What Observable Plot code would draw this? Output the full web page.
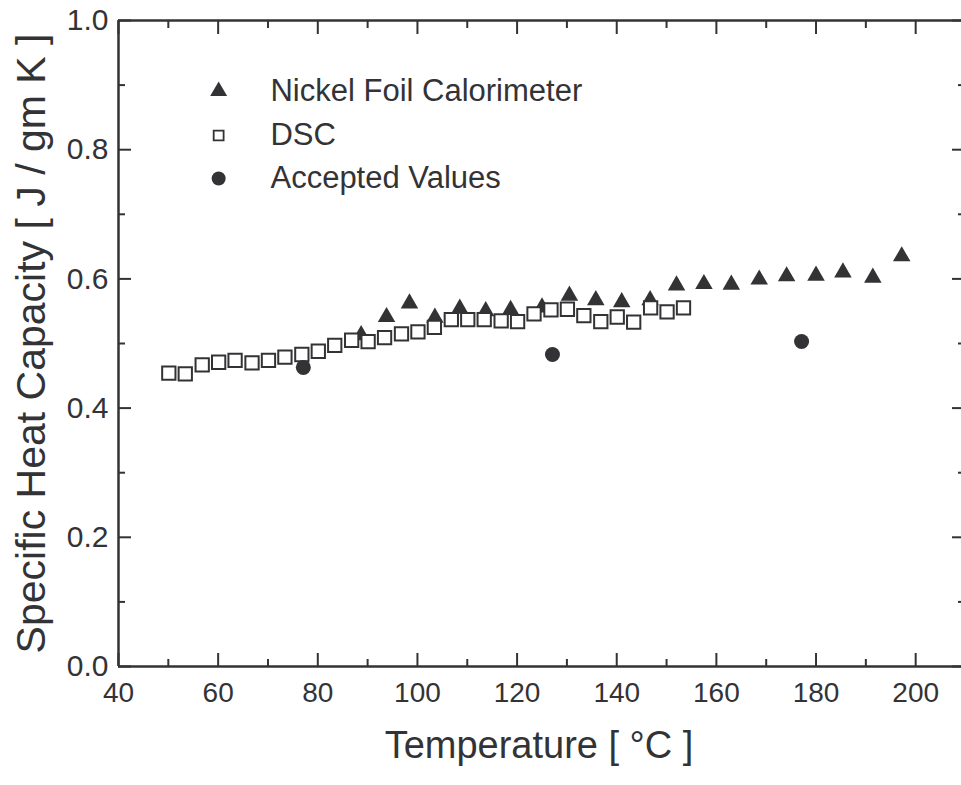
<!DOCTYPE html>
<html>
<head>
<meta charset="utf-8">
<script src="https://cdn.jsdelivr.net/npm/d3@7"></script>
<script src="https://cdn.jsdelivr.net/npm/@observablehq/plot@0.6"></script>
<style>
  html, body { margin: 0; padding: 0; background: #fff; overflow: hidden; scrollbar-width: none; }
  ::-webkit-scrollbar { display: none; width: 0; height: 0; }
  #chart { width: 961px; height: 785px; overflow: hidden; }
  #chart svg { max-width: none !important; display: block; }
</style>
</head>
<body>
<div id="chart"></div>
<script>
// Nickel foil calorimeter (triangles)
const nickelT = [88.7, 93.8, 98.4, 103.5, 108.5, 113.7, 118.7, 125.0, 130.5, 135.8, 141.0, 146.7, 152.0, 157.5, 163.0, 168.6, 174.1, 180.0, 185.4, 191.4, 197.2];
const nickelCp = [0.513, 0.541, 0.562, 0.540, 0.554, 0.550, 0.552, 0.556, 0.574, 0.567, 0.564, 0.567, 0.590, 0.592, 0.591, 0.599, 0.604, 0.605, 0.610, 0.602, 0.635];

// DSC (open squares)
const dscT = [50.1, 53.4, 56.8, 60.1, 63.4, 66.8, 70.1, 73.4, 76.8, 80.1, 83.4, 86.8, 90.1, 93.4, 96.8, 100.1, 103.4, 106.8, 110.1, 113.4, 116.8, 120.1, 123.4, 126.8, 130.1, 133.4, 136.8, 140.1, 143.4, 146.8, 150.1, 153.4];
const dscCp = [0.454, 0.453, 0.467, 0.471, 0.474, 0.470, 0.474, 0.479, 0.483, 0.488, 0.497, 0.505, 0.503, 0.509, 0.515, 0.518, 0.525, 0.537, 0.537, 0.537, 0.535, 0.534, 0.546, 0.552, 0.553, 0.543, 0.534, 0.541, 0.533, 0.555, 0.549, 0.555];

// Accepted values (filled circles)
const acceptedT = [77.1, 127.1, 177.1];
const acceptedCp = [0.463, 0.483, 0.503];

// Axis ticks
const xMajor = [40, 60, 80, 100, 120, 140, 160, 180, 200];
const xMinor = [50, 70, 90, 110, 130, 150, 170, 190];
const yMajor = [0, 0.2, 0.4, 0.6, 0.8, 1.0];
const yMinor = [0.1, 0.3, 0.5, 0.7, 0.9];

// Legend
const legendLabels = ["Nickel Foil Calorimeter", "DSC", "Accepted Values"];

const nickel = nickelT.map((t, i) => ({t, cp: nickelCp[i]}));
const dsc = dscT.map((t, i) => ({t, cp: dscCp[i]}));
const accepted = acceptedT.map((t, i) => ({t, cp: acceptedCp[i]}));

const ink = "#333336";
const fmt = d3.format(".1f");

const legendX = 60.1, legendTextX = 70.5;
const legendYs = [0.8906, 0.822, 0.7554];
const legend = legendLabels.map((label, i) => ({label, y: legendYs[i]}));

const tickOpts = {tickFormat: () => "", label: null, stroke: ink, strokeWidth: 2};
const xMax = 210, pxPerUnit = (965 - 118) / (210 - 40);

const chart = Plot.plot({
  width: 961,
  height: 785,
  marginLeft: 118,
  marginRight: 0,
  marginTop: 20,
  marginBottom: 119,
  style: {fontFamily: "'Liberation Sans', Arial, sans-serif", fontSize: "28px", color: ink, background: "#fff", maxWidth: "none"},
  x: {domain: [40, xMax], range: [118, 965], axis: null},
  y: {domain: [0, 1], axis: null},
  marks: [
    // tick labels
    Plot.axisX({ticks: xMajor, tickSize: 0, tickPadding: 16, tickFormat: d => d, label: null, fill: ink, fontSize: 28}),
    Plot.axisY({ticks: yMajor, tickSize: 0, tickPadding: 10, tickFormat: fmt, label: null, fill: ink, fontSize: 30}),
    // inward ticks
    Plot.axisX({anchor: "bottom", ticks: xMajor, tickSize: -13, ...tickOpts}),
    Plot.axisX({anchor: "bottom", ticks: xMinor, tickSize: -7, ...tickOpts}),
    Plot.axisX({anchor: "top", ticks: xMajor, tickSize: -13, ...tickOpts}),
    Plot.axisX({anchor: "top", ticks: xMinor, tickSize: -7, ...tickOpts}),
    Plot.axisY({anchor: "left", ticks: yMajor, tickSize: -13, ...tickOpts}),
    Plot.axisY({anchor: "left", ticks: yMinor, tickSize: -7, ...tickOpts}),
    // right-side ticks (the right frame edge itself lies just beyond the picture)
    Plot.ruleY(yMajor, {x1: xMax - 13 / pxPerUnit, x2: xMax, stroke: ink, strokeWidth: 2}),
    Plot.ruleY(yMinor, {x1: xMax - 7 / pxPerUnit, x2: xMax, stroke: ink, strokeWidth: 2}),
    // frame
    Plot.ruleY([0, 1], {stroke: ink, strokeWidth: 2.5}),
    Plot.ruleX([40], {stroke: ink, strokeWidth: 2.5}),
    // axis titles
    Plot.text(["Temperature [ °C ]"], {frameAnchor: "bottom", dx: -1, dy: 91, fontSize: 38, fill: ink}),
    Plot.text(["Specific Heat Capacity [ J / gm K ]"], {frameAnchor: "left", textAnchor: "middle", dx: -87, rotate: -90, fontSize: 41, fill: ink}),
    // data
    Plot.dot(nickel, {x: "t", y: "cp", symbol: "triangle", r: 6.5, fill: ink, stroke: "none"}),
    Plot.dot(dsc, {x: "t", y: "cp", symbol: "square", r: 7.5, fill: "white", stroke: ink, strokeWidth: 2}),
    Plot.dot(accepted, {x: "t", y: "cp", symbol: "circle", r: 7.5, fill: ink, stroke: "none"}),
    // legend
    Plot.dot(legend.slice(0, 1), {x: () => legendX, y: "y", symbol: "triangle", r: 6.3, fill: ink, stroke: "none"}),
    Plot.dot(legend.slice(1, 2), {x: () => legendX, y: "y", symbol: "square", r: 5.6, fill: "white", stroke: ink, strokeWidth: 1.8}),
    Plot.dot(legend.slice(2, 3), {x: () => legendX, y: "y", symbol: "circle", r: 7, fill: ink, stroke: "none"}),
    Plot.text(legend, {x: () => legendTextX, y: "y", text: "label", textAnchor: "start", fontSize: 31, fill: ink})
  ]
});
chart.style.maxWidth = "none";
document.getElementById("chart").appendChild(chart);
</script>
</body>
</html>
